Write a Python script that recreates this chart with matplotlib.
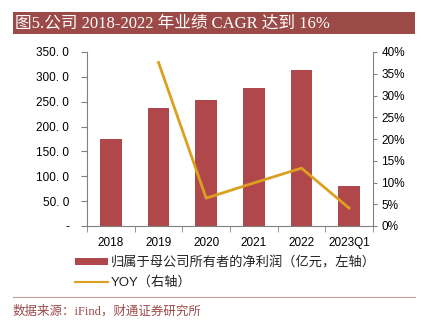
import matplotlib
matplotlib.use("Agg")
import matplotlib.pyplot as plt
from matplotlib.patches import Rectangle, Patch
from matplotlib.lines import Line2D
import numpy as np

categories = ["2018", "2019", "2020", "2021", "2022", "2023Q1"]
profit = [174.0, 238.0, 253.0, 277.0, 314.0, 81.0]
yoy = [np.nan, 0.376, 0.064, 0.099, 0.133, 0.041]
left_ticks = [0, 50, 100, 150, 200, 250, 300, 350]
left_labels = ["-", "50. 0", "100. 0", "150. 0", "200. 0", "250. 0", "300. 0", "350. 0"]
right_ticks = [0, 0.05, 0.10, 0.15, 0.20, 0.25, 0.30, 0.35, 0.40]
right_labels = ["0%", "5%", "10%", "15%", "20%", "25%", "30%", "35%", "40%"]

title = "图5.公司 2018-2022 年业绩 CAGR 达到 16%"
legend_labels = ["归属于母公司所有者的净利润（亿元，左轴）", "YOY（右轴）"]
source = "数据来源：iFind，财通证券研究所"

bar_color = "#B0474A"
line_color = "#DCA021"
brand = "#9B4A47"

plt.rcParams['font.family'] = ['Liberation Sans', 'Noto Sans CJK SC']

W, H = 421, 328
fig = plt.figure(figsize=(W / 100, H / 100), dpi=100)

# title bar
fig.patches.append(Rectangle((13 / W, 1 - 34 / H), (415 - 13) / W, 22 / H,
                             transform=fig.transFigure, facecolor=brand, edgecolor='none'))
fig.text(15 / W, 1 - 23 / H, title, color='white', fontsize=12, va='center', ha='left',
         family=['Liberation Serif', 'Noto Sans CJK SC'])

ax = fig.add_axes([87 / W, 1 - 226 / H, (373 - 87) / W, (226 - 52) / H])
x = np.arange(len(categories))
ax.bar(x, profit, width=0.45, color=bar_color, zorder=2)
ax.set_xlim(-0.5, len(categories) - 0.5)
ax.set_ylim(0, 350)
ax.set_yticks(left_ticks)
ax.set_yticklabels(left_labels, fontsize=8.5)
ax.set_xticks(x)
ax.set_xticklabels(categories, fontsize=8.5)
ax.tick_params(axis='x', length=0, pad=8)
ax.set_xticks(np.arange(-0.5, len(categories) + 0.5, 1), minor=True)
ax.tick_params(axis='x', which='minor', length=4, color='#808080', direction='out')
ax.tick_params(axis='y', length=4, color='#808080', direction='out', pad=9)
for s in ['top', 'right']:
    ax.spines[s].set_visible(False)
ax.spines['left'].set_color('#808080')
ax.spines['bottom'].set_color('#808080')

ax2 = ax.twinx()
ax2.plot(x, yoy, color=line_color, linewidth=2, zorder=3)
ax2.set_ylim(0, 0.40)
ax2.set_yticks(right_ticks)
ax2.set_yticklabels(right_labels, fontsize=8.5)
ax2.tick_params(axis='y', length=3, color='#808080', direction='out', pad=3)
for s in ['top', 'left', 'bottom']:
    ax2.spines[s].set_visible(False)
ax2.spines['right'].set_color('#808080')

handles = [Patch(facecolor=bar_color, edgecolor='none'),
           Line2D([], [], color=line_color, linewidth=1.5)]
leg = fig.legend(handles, legend_labels, loc='upper left', bbox_to_anchor=(75 / W, 1 - 256 / H),
                 frameon=False, fontsize=9.5, handlelength=2.5, handleheight=0.45,
                 handletextpad=0.2, labelspacing=0.55, borderpad=0, borderaxespad=0)
for t in leg.get_texts():
    t.set_color('#222222')

fig.lines.append(Line2D([13 / W, 415 / W], [1 - 297 / H, 1 - 297 / H], transform=fig.transFigure,
                        color='#C89A98', linewidth=0.8))
fig.text(13 / W, 1 - 311 / H, source, color=brand, fontsize=9, va='center', ha='left',
         family=['Liberation Serif', 'Noto Sans CJK SC'])

fig.savefig("out.png", dpi=100, facecolor='white')
